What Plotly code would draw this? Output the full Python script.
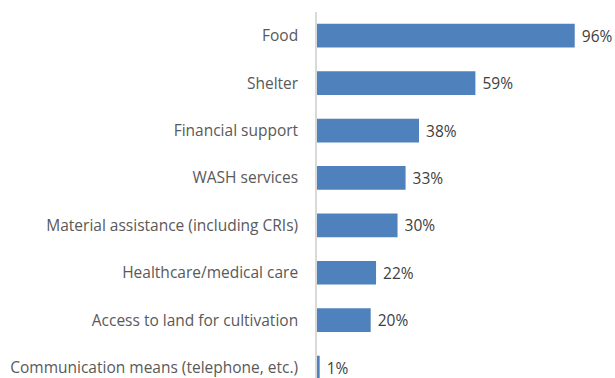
import plotly.graph_objects as go

categories = ["Food", "Shelter", "Financial support", "WASH services",
              "Material assistance (including CRIs)", "Healthcare/medical care",
              "Access to land for cultivation", "Communication means (telephone, etc.)"]
values = [96, 59, 38, 33, 30, 22, 20, 1]
labels = [f" {v}%" for v in values]

fig = go.Figure(go.Bar(
    x=values, y=categories, orientation="h",
    marker=dict(color="#4F81BD", line=dict(width=0)),
    width=0.5,
    text=labels, textposition="outside", cliponaxis=False, constraintext="none",
    textfont=dict(family="Open Sans", size=15.5, color="#404040"),
    outsidetextfont=dict(family="Open Sans", size=15.5, color="#404040"),
))
fig.update_layout(
    width=615, height=378, margin=dict(l=317, r=0, t=12, b=0),
    paper_bgcolor="white", plot_bgcolor="white", showlegend=False,
    font=dict(family="Open Sans", size=15.5, color="#595959"),
    uniformtext=dict(mode=False) if False else None,
)
fig.update_xaxes(range=[0, 111], visible=False, showgrid=False)
fig.update_yaxes(categoryorder="array", categoryarray=categories,
                 range=[7.22, -0.5], showline=True, linecolor="#D9D9D9", linewidth=1.5,
                 showgrid=False, ticks="", ticklabelstandoff=14,
                 tickfont=dict(family="Open Sans", size=15.5, color="#595959"))
fig.write_html("out.html")
